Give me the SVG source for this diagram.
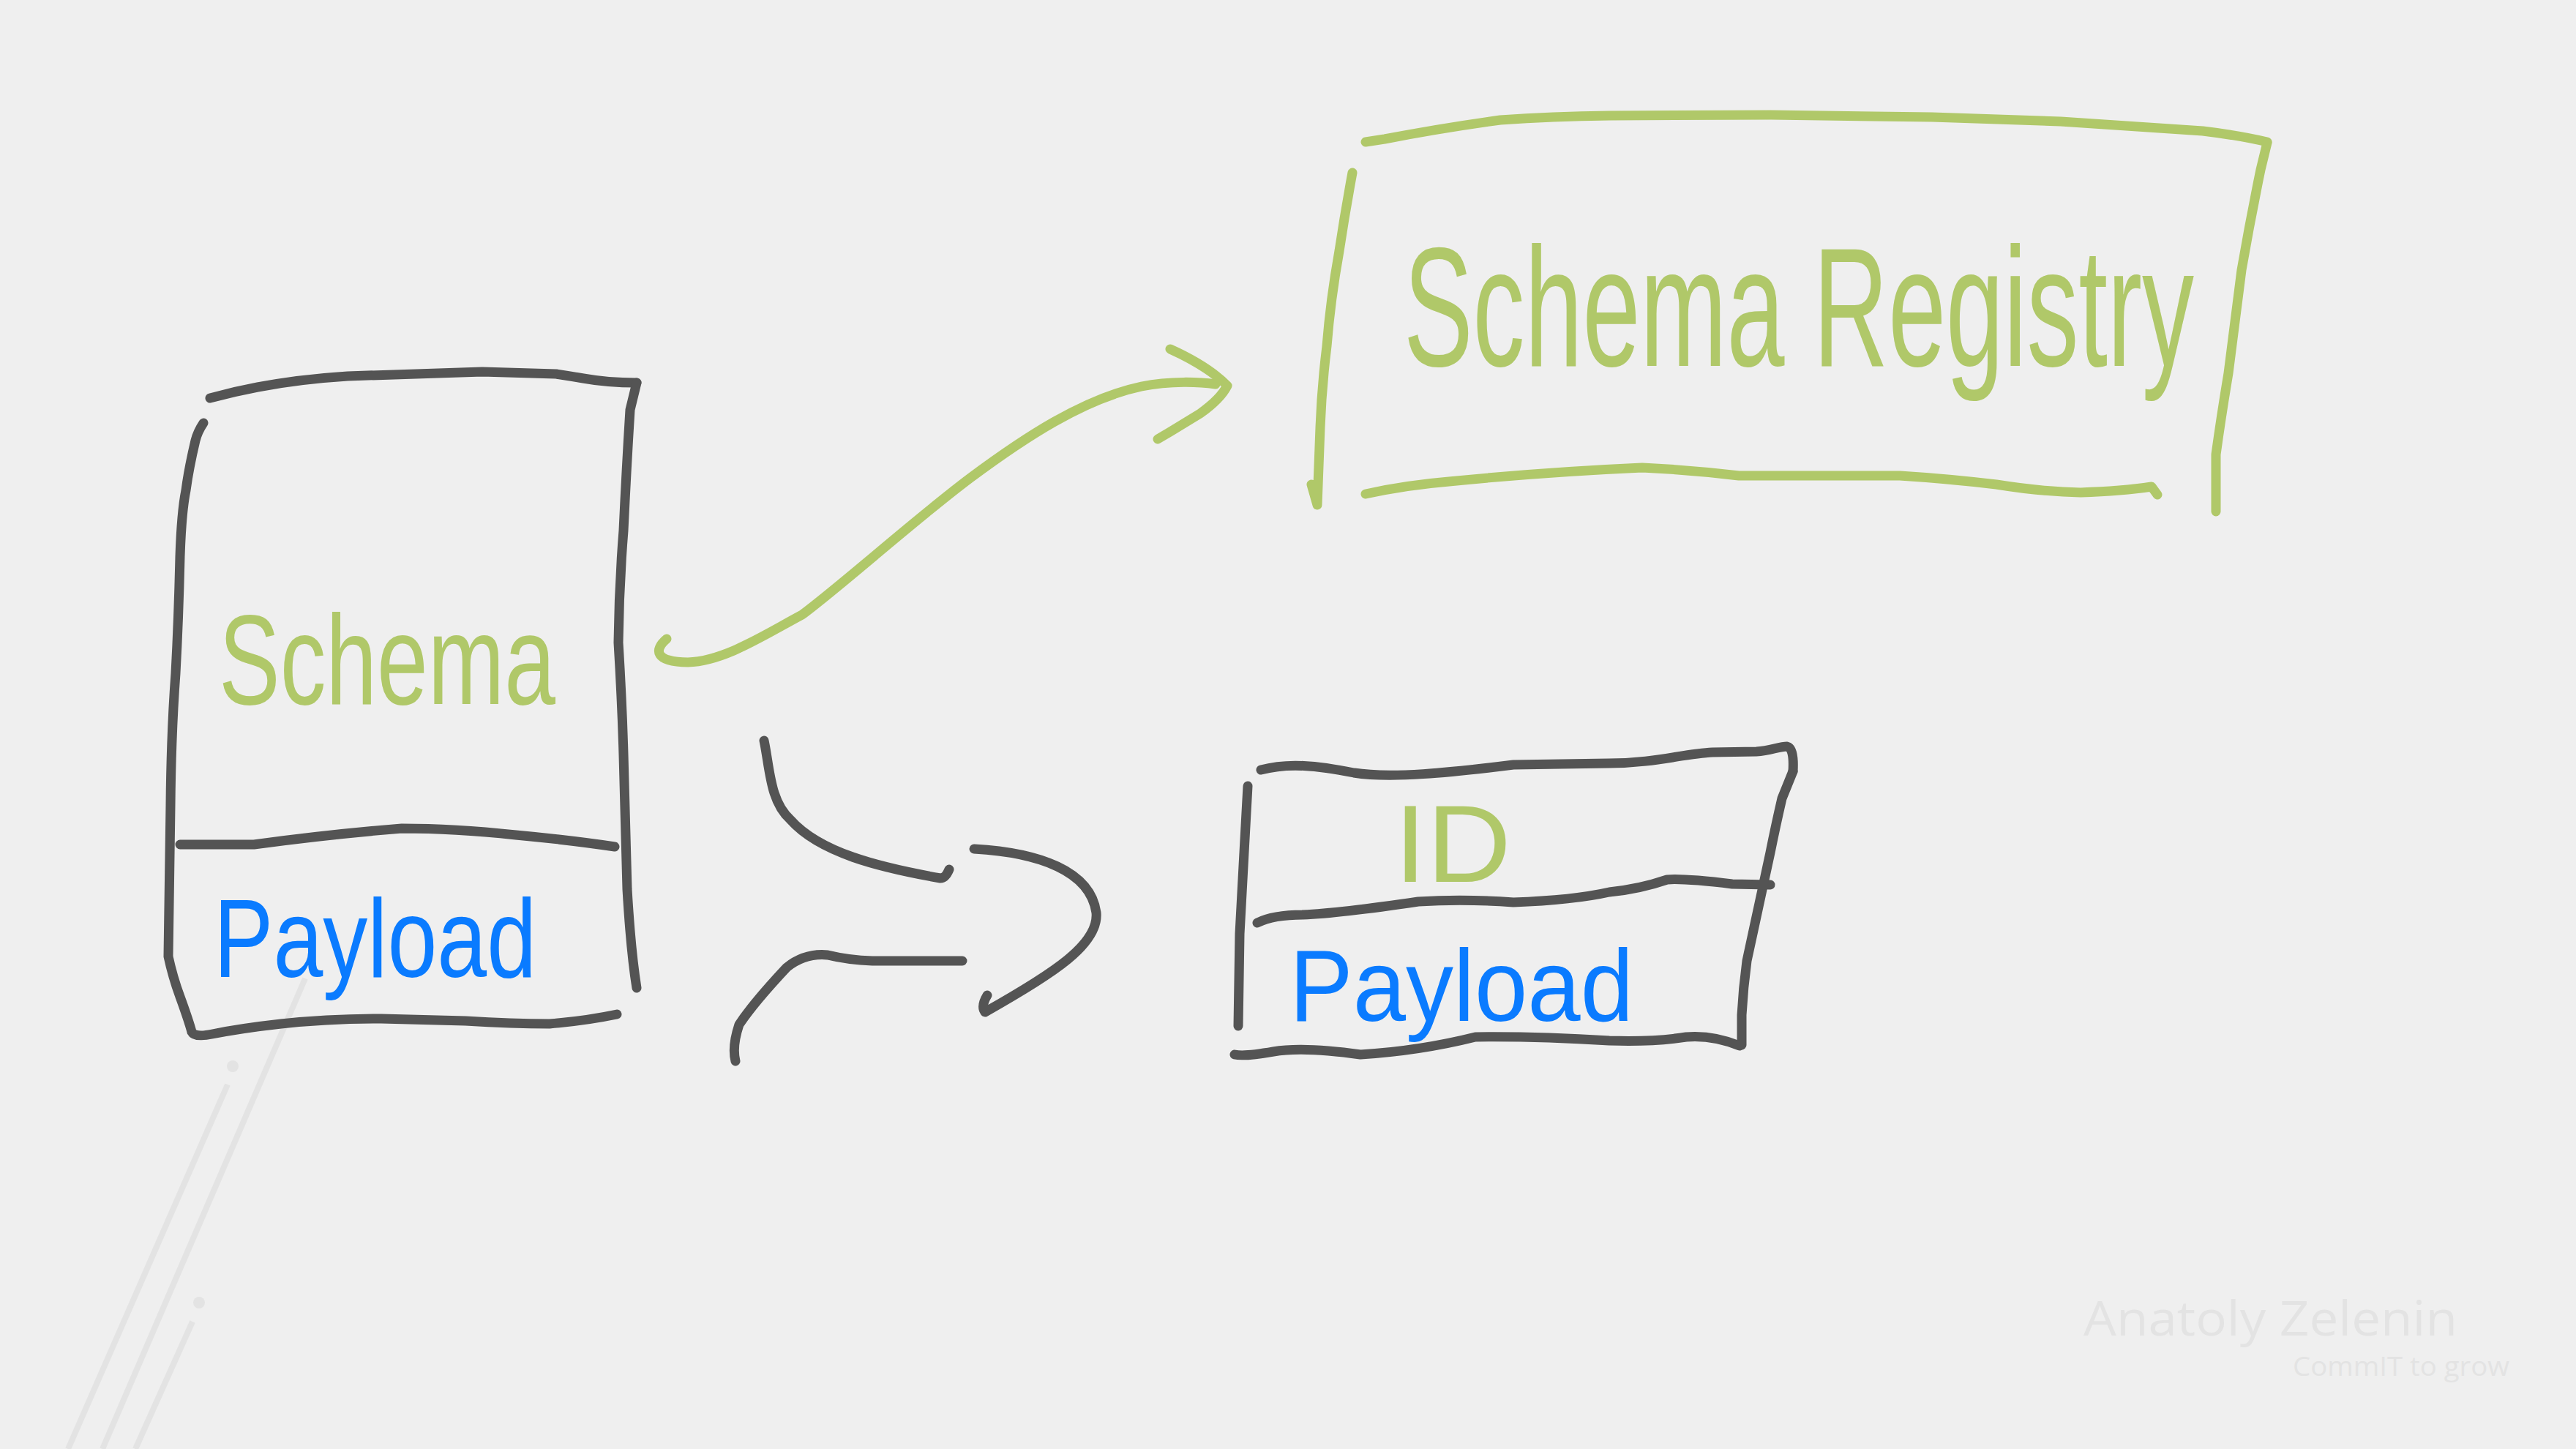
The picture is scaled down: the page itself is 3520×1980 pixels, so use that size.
<svg xmlns="http://www.w3.org/2000/svg" width="3520" height="1980" viewBox="0 0 3520 1980">
<style>
.ink{fill:none;stroke-linecap:round;stroke-linejoin:round}
.grey{stroke:#545454;stroke-width:13}
.green{stroke:#b0c869;stroke-width:13}
.deco{fill:none;stroke:#e3e3e3;stroke-width:8;stroke-linecap:butt}
.hand{font-family:"Liberation Sans Narrow","Liberation Sans",Arial,sans-serif}
.tg{fill:#b0c869}
.tb{fill:#0a7bff}
.wm{font-family:"Open Sans","Noto Sans",sans-serif;fill:#e3e3e3}
</style>
<rect x="0" y="0" width="3520" height="1980" fill="#efefef"/>
<g id="decoration">
<line class="deco" x1="311" y1="1482" x2="93" y2="1980"/>
<line class="deco" x1="417" y1="1337" x2="140" y2="1980"/>
<line class="deco" x1="263" y1="1806" x2="185" y2="1980"/>
<circle cx="318" cy="1457" r="8" fill="#e3e3e3"/>
<circle cx="272" cy="1780" r="8" fill="#e3e3e3"/>
</g>
<g id="message-with-schema">
<path class="ink grey" d="M287,544 Q320,535 352,529 Q410,518 475,514 L659,508 L760,511 Q780,514 797,517 Q830,523 870,523"/>
<path class="ink grey" d="M870,523 L861,560 Q856,640 852,725 Q846,800 845,878 Q850,960 852,1031 L857,1215 Q862,1300 870,1350"/>
<path class="ink grey" d="M278,578 Q270,590 267,602 Q258,640 254,670 Q248,700 246,760 Q244,847 240,920 Q234,1000 233,1100 L230,1307 Q236,1335 246,1362 Q258,1395 262,1410 Q266,1418 290,1413 Q330,1405 384,1399 Q450,1392 521,1392 L636,1395 Q700,1399 751,1399 Q800,1395 843,1386"/>
<path class="ink grey" d="M246,1154 L347,1154 Q450,1140 549,1132 Q620,1132 705,1141 Q780,1148 840,1157"/>
<text class="hand tg" x="299" y="962" font-size="175" textLength="460" lengthAdjust="spacingAndGlyphs">Schema</text>
<text class="hand tb" x="292" y="1335" font-size="152" textLength="441" lengthAdjust="spacingAndGlyphs">Payload</text>
</g>
<g id="schema-registry">
<path class="ink green" d="M1866,194 L1892,190 Q1970,175 2050,164 Q2120,159 2200,158 L2420,157 L2640,160 L2816,166 L3010,179 Q3060,185 3098,194"/>
<path class="ink green" d="M3098,195 L3089,232 Q3075,300 3063,369 Q3054,440 3045,510 Q3035,570 3028,621 L3028,699"/>
<path class="ink green" d="M1848,236 Q1838,290 1830,343 Q1818,410 1813,473 Q1806,530 1804,584 L1800,690 L1792,662"/>
<path class="ink green" d="M1866,675 Q1920,663 1980,658 Q2110,645 2244,639 Q2310,642 2376,650 L2596,650 Q2660,654 2728,662 Q2790,672 2843,673 Q2900,671 2940,665 L2948,676"/>
<text class="hand tg" transform="translate(1918,500) scale(1,1.63)" x="0" y="0" font-size="142" textLength="1080" lengthAdjust="spacingAndGlyphs">Schema Registry</text>
</g>
<g id="message-with-id">
<path class="ink grey" d="M1723,1052 C1760,1042 1800,1046 1850,1056 C1900,1064 1980,1056 2068,1045 L2199,1043 C2260,1043 2300,1030 2340,1028 L2400,1027 C2420,1026 2430,1020 2442,1020 Q2452,1022 2450,1054"/>
<path class="ink grey" d="M2450,1054 L2435,1091 Q2426,1130 2419,1165 L2403,1239 Q2394,1280 2387,1313 Q2382,1350 2380,1387 L2380,1428"/>
<path class="ink grey" d="M1705,1074 L1700,1165 L1694,1276 L1692,1402"/>
<path class="ink grey" d="M1718,1261 Q1740,1250 1780,1250 Q1830,1248 1938,1232 Q2000,1228 2068,1233 Q2150,1230 2199,1219 Q2240,1215 2278,1202 Q2300,1200 2367,1208 L2419,1209"/>
<path class="ink grey" d="M1687,1441 Q1700,1444 1740,1437 Q1780,1430 1859,1441 Q1940,1436 2016,1417 Q2100,1416 2199,1422 Q2260,1424 2304,1417 Q2340,1414 2377,1429"/>
<text class="hand tg" x="1905" y="1205" font-size="150" textLength="160" lengthAdjust="spacingAndGlyphs">ID</text>
<text class="hand tb" x="1762" y="1395" font-size="140" textLength="470" lengthAdjust="spacingAndGlyphs">Payload</text>
</g>
<g id="connectors">
<path class="ink green" d="M911,873 C893,888 895,905 940,905 C990,903 1040,870 1096,840 C1150,800 1250,710 1326,653 C1400,598 1480,545 1560,528 C1600,520 1640,522 1661,525"/>
<path class="ink green" d="M1599,477 Q1650,500 1677,527 Q1668,545 1640,565 L1599,590 L1582,600"/>
<path class="ink grey" d="M1044,1012 C1052,1050 1052,1095 1080,1120 C1120,1165 1200,1185 1285,1200 Q1292,1200 1297,1188"/>
<path class="ink grey" d="M1331,1160 C1420,1165 1490,1190 1498,1247 C1502,1290 1440,1330 1346,1383 Q1340,1375 1349,1360"/>
<path class="ink grey" d="M1315,1313 L1192,1313 Q1160,1312 1131,1305 Q1100,1302 1075,1322 Q1030,1370 1010,1400 Q1000,1430 1005,1450"/>
</g>
<g id="watermark">
<text class="wm" x="2847" y="1825" font-size="66" textLength="511" lengthAdjust="spacingAndGlyphs">Anatoly Zelenin</text>
<text class="wm" x="3133" y="1880" font-size="36" textLength="296" lengthAdjust="spacingAndGlyphs">CommIT to grow</text>
</g>
</svg>
